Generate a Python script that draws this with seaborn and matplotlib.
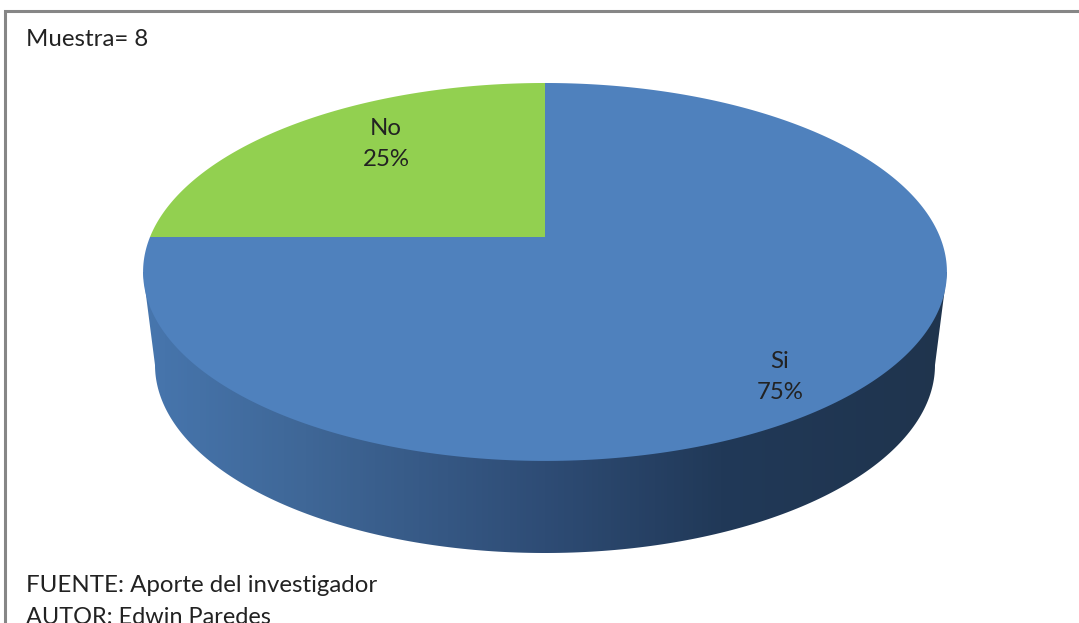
import numpy as np
import matplotlib
matplotlib.use("Agg")
import matplotlib.pyplot as plt
import seaborn as sns
from matplotlib.colors import LinearSegmentedColormap
from matplotlib.patches import Polygon

labels = ["Si", "No"]
values = [75, 25]
colors = ["#4F81BD", "#92D050"]
muestra = "Muestra= 8"
notes = ["FUENTE: Aporte del investigador", "AUTOR: Edwin Paredes"]

sns.set_theme(style="white")
plt.rcParams["font.family"] = ["Lato", "DejaVu Sans"]


def warp(x, y):
    # tilted disc: unit circle -> perspective ellipse in pixel coords
    w = 1 + 0.185 * y
    return 545 + 395 * x / w, 237 - 182.5 * y / w


fig, ax = plt.subplots(figsize=(10.79, 6.23), dpi=100)
fig.subplots_adjust(0, 0, 1, 1)

wedges, _ = ax.pie(values, colors=colors, startangle=90, counterclock=False)
ax.set_aspect("auto")
ax.set_xlim(0, 1079)
ax.set_ylim(623, 0)
ax.axis("off")

# side wall of the disc, dark gradient left to right
t = np.linspace(0, np.pi, 200)
wall_x = np.r_[143, 545 - 390 * np.cos(t), 947]
wall_y = np.r_[272, 365 + 188 * np.sin(t), 272]
wall = Polygon(np.c_[wall_x, wall_y], closed=True, fc="none", ec="none")
ax.add_patch(wall)
cmap = LinearSegmentedColormap.from_list(
    "wall", [(0, "#4776AE"), (0.2, "#3F6797"), (0.5, "#2E4C75"), (0.72, "#213958"), (1, "#1F344D")]
)
img = ax.imshow(
    np.linspace(0, 1, 256)[None, :], cmap=cmap, extent=(143, 947, 560, 260),
    aspect="auto", zorder=1,
)
img.set_clip_path(wall)
ax.set_xlim(0, 1079)
ax.set_ylim(623, 0)

# top face from the pie wedges
for w in wedges:
    a = np.radians(np.linspace(w.theta1, w.theta2, 300))
    px, py = warp(np.cos(a), np.sin(a))
    cx, cy = warp(0, 0)
    ax.add_patch(Polygon(np.c_[np.r_[cx, px], np.r_[cy, py]], closed=True,
                         fc=w.get_facecolor(), ec="none", zorder=2))
    w.remove()

ax.plot([5, 5, 1079], [623, 11, 11], color="#868686", lw=2.2, zorder=3,
        solid_joinstyle="miter", clip_on=False)

tc = "#222222"
fs = 17.3
ax.text(26, 39.5, muestra, fontsize=fs, color=tc, va="center", zorder=4)
ax.text(386, 144, f"{labels[1]}\n{values[1]}%", fontsize=fs, color=tc, ha="center",
        va="center", linespacing=1.6, zorder=4)
ax.text(780, 377, f"{labels[0]}\n{values[0]}%", fontsize=fs, color=tc, ha="center",
        va="center", linespacing=1.6, zorder=4)
ax.text(26, 585, notes[0], fontsize=fs, color=tc, va="center", zorder=4)
ax.text(26, 618, notes[1], fontsize=16.9, color=tc, va="center", zorder=4)

fig.savefig("out.png", dpi=100, facecolor="white")
